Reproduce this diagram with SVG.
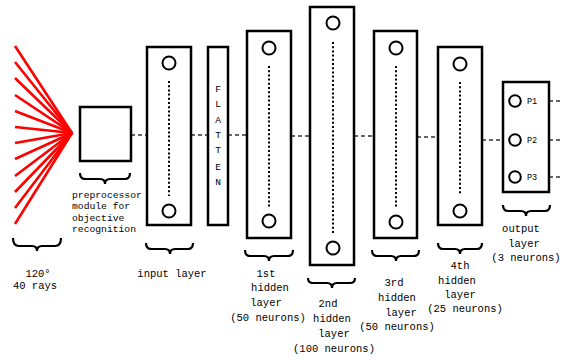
<svg xmlns="http://www.w3.org/2000/svg" width="561" height="358" viewBox="0 0 561 358">
<style>
.box{fill:#fff;stroke:#000;stroke-width:2.5}
.neuron{fill:#fff;stroke:#000;stroke-width:2}
.dots{stroke:#000;stroke-width:2;stroke-dasharray:2 2.2}
.brace{fill:none;stroke:#000;stroke-width:2.2}
.conn{stroke:#333;stroke-width:1.5;stroke-dasharray:4 3;fill:none}
.ray{stroke:#ff0000;stroke-width:2.6}
.lbl{font-family:"Liberation Mono","DejaVu Sans Mono",monospace;font-size:10.5px;fill:#000;text-anchor:middle}
.small{font-family:"Liberation Mono","DejaVu Sans Mono",monospace;font-size:9.7px;fill:#000}
.flat{font-family:"Liberation Mono","DejaVu Sans Mono",monospace;font-size:9.5px;fill:#000;text-anchor:middle}
.p{font-family:"Liberation Mono","DejaVu Sans Mono",monospace;font-size:8.5px;fill:#000}
</style>
<rect width="561" height="358" fill="#fff"/>
<g id="connectors">
<line class="conn" x1="131" y1="135" x2="147" y2="135"/>
<line class="conn" x1="191" y1="135" x2="208" y2="135"/>
<line class="conn" x1="228" y1="135" x2="247" y2="135"/>
<line class="conn" x1="291" y1="136" x2="310" y2="136"/>
<line class="conn" x1="354" y1="136" x2="374" y2="136"/>
<line class="conn" x1="417" y1="137" x2="438" y2="137"/>
<line class="conn" x1="482" y1="140" x2="503" y2="140"/>
<line class="conn" x1="549" y1="101" x2="561" y2="101"/>
<line class="conn" x1="549" y1="140" x2="561" y2="140"/>
<line class="conn" x1="549" y1="177" x2="561" y2="177"/>
</g>
<g id="rays">
<line class="ray" x1="72" y1="133" x2="15" y2="46"/>
<line class="ray" x1="72" y1="133" x2="15" y2="62"/>
<line class="ray" x1="72" y1="133" x2="15" y2="78"/>
<line class="ray" x1="72" y1="133" x2="15" y2="95"/>
<line class="ray" x1="72" y1="133" x2="15" y2="111"/>
<line class="ray" x1="72" y1="133" x2="15" y2="127"/>
<line class="ray" x1="72" y1="133" x2="15" y2="143"/>
<line class="ray" x1="72" y1="133" x2="15" y2="159"/>
<line class="ray" x1="72" y1="133" x2="15" y2="176"/>
<line class="ray" x1="72" y1="133" x2="15" y2="192"/>
<line class="ray" x1="72" y1="133" x2="15" y2="208"/>
<line class="ray" x1="72" y1="133" x2="15" y2="224"/>
<path class="brace" d="M13,238 Q13,246 19,246 L32,246 Q37,246 37,251 Q37,246 42,246 L55,246 Q61,246 61,238"/>
<text class="lbl" x="38" y="277">120°</text>
<text class="lbl" x="35" y="289">40 rays</text>
</g>
<g id="preprocessor">
<rect class="box" x="80" y="107" width="51" height="54"/>
<path class="brace" d="M80,173 Q80,179 85,179 L100,179 Q105,179 105,184 Q105,179 110,179 L125,179 Q130,179 130,173"/>
<text class="small" x="72" y="198">preprocessor</text>
<text class="small" x="72" y="209">module for</text>
<text class="small" x="72" y="221">objective</text>
<text class="small" x="72" y="232">recognition</text>
</g>
<g id="input-layer">
<rect class="box" x="147" y="47" width="44" height="178"/>
<circle class="neuron" cx="169" cy="63" r="6.5"/>
<line class="dots" x1="169" y1="81" x2="169" y2="196"/>
<circle class="neuron" cx="169" cy="211" r="6.5"/>
<path class="brace" d="M146,243 Q146,249 151,249 L165,249 Q170,249 170,254 Q170,249 175,249 L188,249 Q193,249 193,243"/>
<text class="lbl" x="172" y="277">input layer</text>
</g>
<g id="flatten">
<rect class="box" x="208" y="47" width="20" height="178"/>
<text class="flat" x="218" y="92">F</text>
<text class="flat" x="218" y="107">L</text>
<text class="flat" x="218" y="123">A</text>
<text class="flat" x="218" y="138">T</text>
<text class="flat" x="218" y="153">T</text>
<text class="flat" x="218" y="170">E</text>
<text class="flat" x="218" y="185">N</text>
</g>
<g id="hidden1">
<rect class="box" x="247" y="31" width="44" height="207"/>
<circle class="neuron" cx="269" cy="48" r="6.5"/>
<line class="dots" x1="269" y1="66" x2="269" y2="207"/>
<circle class="neuron" cx="269" cy="221" r="6.5"/>
<path class="brace" d="M245,250 Q245,256 250,256 L264,256 Q269,256 269,261 Q269,256 274,256 L288,256 Q293,256 293,250"/>
<text class="lbl" x="266" y="277">1st</text>
<text class="lbl" x="270" y="291">hidden</text>
<text class="lbl" x="266" y="306">layer</text>
<text class="lbl" x="268" y="321">(50 neurons)</text>
</g>
<g id="hidden2">
<rect class="box" x="310" y="7" width="44" height="258"/>
<circle class="neuron" cx="333" cy="23" r="6.5"/>
<line class="dots" x1="333" y1="42" x2="333" y2="233"/>
<circle class="neuron" cx="333" cy="248" r="6.5"/>
<path class="brace" d="M308,278 Q308,283 313,283 L327,283 Q332,283 332,288 Q332,283 337,283 L350,283 Q355,283 355,278"/>
<text class="lbl" x="328" y="307">2nd</text>
<text class="lbl" x="332" y="322">hidden</text>
<text class="lbl" x="334" y="337">layer</text>
<text class="lbl" x="334" y="352">(100 neurons)</text>
</g>
<g id="hidden3">
<rect class="box" x="374" y="31" width="43" height="207"/>
<circle class="neuron" cx="396" cy="48" r="6.5"/>
<line class="dots" x1="396" y1="66" x2="396" y2="207"/>
<circle class="neuron" cx="396" cy="222" r="6.5"/>
<path class="brace" d="M372,250 Q372,256 377,256 L391,256 Q396,256 396,261 Q396,256 401,256 L414,256 Q419,256 419,250"/>
<text class="lbl" x="394" y="286">3rd</text>
<text class="lbl" x="397" y="301">hidden</text>
<text class="lbl" x="401" y="316">layer</text>
<text class="lbl" x="397" y="330">(50 neurons)</text>
</g>
<g id="hidden4">
<rect class="box" x="438" y="47" width="44" height="178"/>
<circle class="neuron" cx="460" cy="64" r="6.5"/>
<line class="dots" x1="460" y1="82" x2="460" y2="195"/>
<circle class="neuron" cx="460" cy="211" r="6.5"/>
<path class="brace" d="M438,243 Q438,249 443,249 L455,249 Q460,249 460,254 Q460,249 465,249 L477,249 Q482,249 482,243"/>
<text class="lbl" x="460" y="269">4th</text>
<text class="lbl" x="457" y="284">hidden</text>
<text class="lbl" x="460" y="298">layer</text>
<text class="lbl" x="465" y="312">(25 neurons)</text>
</g>
<g id="output-layer">
<rect class="box" x="503" y="82" width="46" height="110"/>
<circle class="neuron" cx="515" cy="101" r="5.8"/>
<circle class="neuron" cx="515" cy="140" r="5.8"/>
<circle class="neuron" cx="515" cy="177" r="5.8"/>
<text class="p" x="527" y="104">P1</text>
<text class="p" x="527" y="143">P2</text>
<text class="p" x="527" y="180">P3</text>
<path class="brace" d="M503,205 Q503,211 508,211 L521,211 Q526,211 526,216 Q526,211 531,211 L545,211 Q550,211 550,205"/>
<text class="lbl" x="521" y="232">output</text>
<text class="lbl" x="524" y="247">layer</text>
<text class="lbl" x="526" y="261">(3 neurons)</text>
</g>
</svg>
